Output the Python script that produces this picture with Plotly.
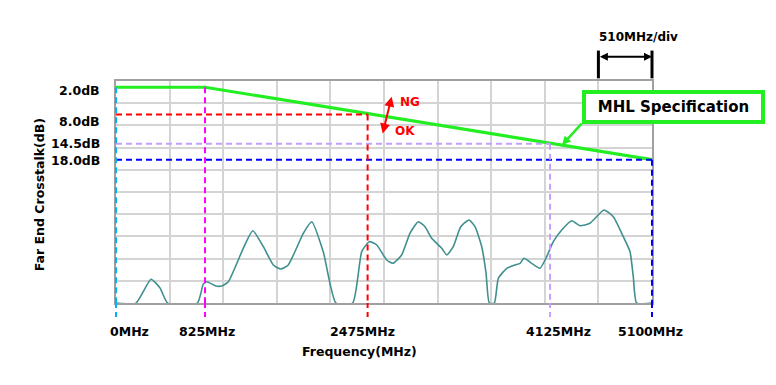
import plotly.graph_objects as go

# ---------------- data ----------------
XMAX = 5100          # MHz, 10 divisions of 510 MHz
DIV = 510
Y_TOP = 0.62         # dB at top of plot
Y_BOT = 49.68        # dB at bottom of plot (floor)

freq_mhz = [0, 190, 333, 419, 492, 774, 831, 863, 952, 1006, 1069, 1211, 1301, 1402,
            1497, 1567, 1639, 1782, 1862, 1972, 2093, 2252, 2338, 2410, 2481, 2576,
            2633, 2718, 2797, 2876, 2940, 3004, 3099, 3147, 3209, 3280, 3359, 3416,
            3480, 3521, 3552, 3600, 3638, 3718, 3797, 3844, 3882, 3955, 4034, 4098,
            4161, 4241, 4336, 4415, 4510, 4643, 4732, 4827, 4891, 4922, 4954, 5100]
xtalk_db = [49.7, 49.7, 44.44, 46.37, 49.7, 49.7, 45.48, 44.97, 45.92, 45.92, 44.97,
            37.59, 33.70, 37.24, 41.28, 42.17, 41.28, 34.28, 31.71, 38.34, 49.7, 49.7,
            38.34, 36.13, 36.86, 40.18, 40.91, 39.07, 34.28, 31.71, 32.82, 35.38, 37.59,
            39.07, 37.24, 32.82, 31.34, 32.82, 37.24, 43.12, 49.7, 49.7, 44.22, 42.01,
            41.28, 40.91, 39.80, 40.91, 42.01, 39.45, 36.13, 33.55, 31.49, 32.60, 32.07,
            29.13, 30.61, 35.03, 38.34, 43.87, 49.7, 49.7]

spec_freq = [0, 847, 5100]
spec_db = [2.0, 2.0, 18.0]

marker_freq = [0, 847, 2394, 4130, 5100]
marker_level_db = [2.0, 2.0, 8.0, 14.5, 18.0]
marker_labels = ["0MHz", "825MHz", "2475MHz", "4125MHz", "5100MHz"]
marker_label_shift = [13, 2, -5, 8, -2]
marker_colors = ["#00b4f0", "#ff00ff", "#ff0000", "#c3a0ff", "#0000ff"]

level_labels = ["2.0dB", "8.0dB", "14.5dB", "18.0dB"]
level_label_db = [2.0, 8.0, 14.5, 18.0]
level_label_shift = [-3, -7, 0, -1]

FONT = "DejaVu Sans"

fig = go.Figure()

fig.add_trace(go.Scatter(
    x=freq_mhz, y=xtalk_db, mode="lines",
    line=dict(color="#3f8f8f", width=1.6, shape="spline", smoothing=0.5),
    hoverinfo="skip", showlegend=False))

fig.add_trace(go.Scatter(
    x=spec_freq, y=spec_db, mode="lines",
    line=dict(color="#22ee22", width=3.2),
    hoverinfo="skip", showlegend=False))

shapes = []
annotations = []
DASH = "6px,4px"

# horizontal dashed lines (red, purple, blue)
for f, lvl, col in zip(marker_freq[2:], marker_level_db[2:], marker_colors[2:]):
    shapes.append(dict(type="line", xref="x", yref="y", x0=0, x1=f, y0=lvl, y1=lvl,
                       line=dict(color=col, width=2, dash=DASH), layer="above"))

# vertical dashed lines and stubs below the axis
for f, lvl, col in zip(marker_freq, marker_level_db, marker_colors):
    fr = f / XMAX
    shapes.append(dict(type="line", xref="x domain", yref="y", x0=fr, x1=fr,
                       y0=lvl, y1=Y_BOT, line=dict(color=col, width=2, dash=DASH),
                       layer="above"))
    shapes.append(dict(type="line", xref="x domain", yref="paper", x0=fr, x1=fr,
                       y0=0, y1=-0.065, line=dict(color=col, width=2, dash="5px,4px"),
                       layer="above"))

# x labels
for f, lab, sh in zip(marker_freq, marker_labels, marker_label_shift):
    annotations.append(dict(x=f, y=0, xref="x", yref="paper", text=lab, showarrow=False,
                            xanchor="center", yanchor="middle", xshift=sh, yshift=-28,
                            font=dict(family=FONT, size=12.5, color="black", weight="bold")))

# y labels
for lab, lvl, sh in zip(level_labels, level_label_db, level_label_shift):
    annotations.append(dict(x=0, y=lvl, xref="paper", yref="y", text=lab, showarrow=False,
                            xanchor="right", yanchor="middle", xshift=-14, yshift=sh,
                            font=dict(family=FONT, size=12.5, color="black", weight="bold")))

# axis titles
annotations.append(dict(x=-0.1437, y=0.49, xref="paper", yref="paper",
                        text="Far End Crosstalk(dB)", textangle=-90, showarrow=False,
                        xanchor="center", yanchor="middle",
                        font=dict(family=FONT, size=12.5, color="black", weight="bold")))
annotations.append(dict(x=0.455, y=0, xref="paper", yref="paper", yshift=-48,
                        text="Frequency(MHz)", showarrow=False,
                        xanchor="center", yanchor="middle",
                        font=dict(family=FONT, size=12.5, color="black", weight="bold")))

# NG / OK arrow
annotations.append(dict(x=2623, y=4.09, ax=2534, ay=12.55, xref="x", yref="y",
                        axref="x", ayref="y", text="", showarrow=True,
                        arrowside="end+start", arrowhead=2, arrowsize=1,
                        arrowwidth=2, arrowcolor="#ff0000"))
annotations.append(dict(x=2797, y=5.3, xref="x", yref="y", text="NG", showarrow=False,
                        font=dict(family=FONT, size=12, color="#ff0000", weight="bold")))
annotations.append(dict(x=2750, y=11.7, xref="x", yref="y", text="OK", showarrow=False,
                        font=dict(family=FONT, size=12, color="#ff0000", weight="bold")))

# MHL Specification callout
spec_pt_f = 4244
spec_pt_db = spec_db[1] + (spec_db[2] - spec_db[1]) * (spec_pt_f - spec_freq[1]) / (spec_freq[2] - spec_freq[1])
annotations.append(dict(x=spec_pt_f, y=spec_pt_db, ax=4443, ay=9.7, xref="x", yref="y",
                        axref="x", ayref="y", text="", showarrow=True, arrowhead=2,
                        arrowsize=0.7, arrowwidth=2.5, arrowcolor="#22ee22"))
annotations.append(dict(x=1.040, y=0.885, xref="paper", yref="paper",
                        text="MHL Specification", showarrow=False,
                        xanchor="center", yanchor="middle",
                        bgcolor="white", bordercolor="#22ee22", borderwidth=4, borderpad=4,
                        width=167, height=18,
                        font=dict(family=FONT, size=15, color="black", weight="bold")))

# 510MHz/div bracket
for f in [XMAX - DIV, XMAX]:
    shapes.append(dict(type="line", xref="x domain", yref="paper", x0=f / XMAX, x1=f / XMAX,
                       y0=1.012, y1=1.137, line=dict(color="black", width=3)))
annotations.append(dict(x=XMAX, y=1.109, ax=XMAX - DIV, ay=0, xref="x", yref="paper",
                        axref="x", ayref="pixel", text="", showarrow=True,
                        arrowside="end+start", arrowhead=2, arrowsize=0.8,
                        arrowwidth=2, arrowcolor="black"))
annotations.append(dict(x=XMAX - DIV / 2, y=1.2, xref="x", yref="paper",
                        text="510MHz/div", showarrow=False, xshift=13,
                        xanchor="center", yanchor="middle",
                        font=dict(family=FONT, size=12, color="black", weight="bold")))

# page body has an 8px margin; size the figure so the plot lands where the reference has it
fig.update_layout(
    width=768, height=377,
    margin=dict(l=108, r=124, t=73, b=82),
    paper_bgcolor="white", plot_bgcolor="white",
    shapes=shapes, annotations=annotations,
    showlegend=False,
    xaxis=dict(range=[0, XMAX], tickmode="linear", tick0=0, dtick=DIV,
               showticklabels=False, ticks="", showgrid=True, gridcolor="#d4d4d4",
               gridwidth=1.5, zeroline=False, showline=True, linecolor="#a0a0a0",
               linewidth=2, mirror=True),
    yaxis=dict(range=[Y_BOT, Y_TOP], tickmode="linear", tick0=Y_BOT,
               dtick=(Y_BOT - Y_TOP) / 10, showticklabels=False, ticks="",
               showgrid=True, gridcolor="#d4d4d4", gridwidth=1.5, zeroline=False,
               showline=True, linecolor="#a0a0a0", linewidth=2, mirror=True),
)

fig.write_html("out.html")
